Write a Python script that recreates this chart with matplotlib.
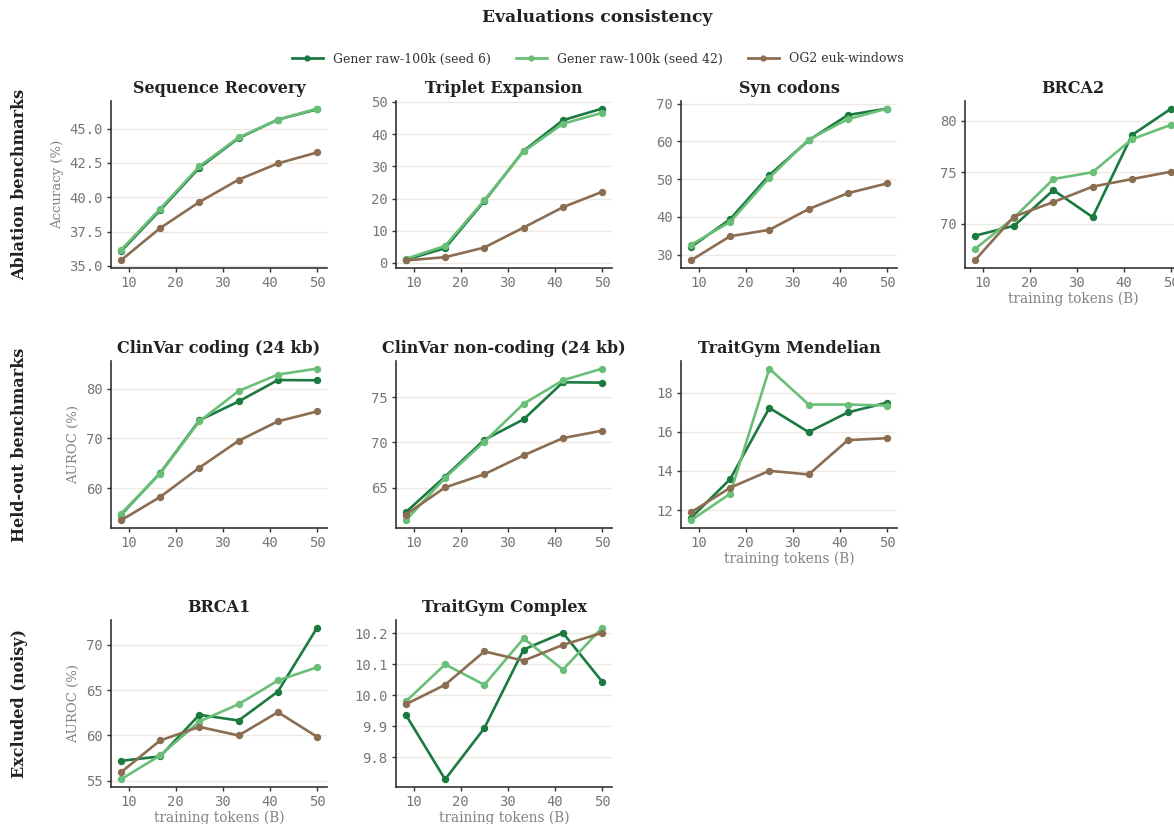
import matplotlib
matplotlib.use("Agg")
import matplotlib.pyplot as plt
from matplotlib.lines import Line2D

# training tokens (B)
tokens = [8.33, 16.67, 25.0, 33.33, 41.67, 50.0]

series_names = ["Gener raw-100k (seed 6)", "Gener raw-100k (seed 42)", "OG2 euk-windows"]
colors = ["#1a7a40", "#6abf78", "#8b6e52"]

seq_recovery = [
    [36.05, 39.05, 42.15, 44.3, 45.65, 46.4],
    [36.15, 39.15, 42.25, 44.35, 45.65, 46.45],
    [35.4, 37.75, 39.65, 41.28, 42.46, 43.26],
]
triplet_exp = [
    [1.0, 4.6, 19.2, 34.8, 44.3, 47.9],
    [1.3, 5.3, 19.5, 34.6, 43.2, 46.6],
    [0.8, 1.8, 4.8, 11.0, 17.3, 22.1],
]
syn_codons = [
    [32.0, 39.4, 51.1, 60.3, 67.0, 68.7],
    [32.6, 38.7, 50.4, 60.5, 65.9, 68.7],
    [28.5, 34.9, 36.6, 42.1, 46.3, 48.9],
]
brca2 = [
    [68.83, 69.8, 73.26, 70.64, 78.6, 81.17],
    [67.53, 70.6, 74.33, 75.0, 78.2, 79.6],
    [66.44, 70.7, 72.1, 73.6, 74.33, 75.05],
]
clinvar_coding = [
    [54.6, 63.0, 73.6, 77.4, 81.7, 81.65],
    [54.8, 62.9, 73.4, 79.5, 82.8, 84.0],
    [53.5, 58.2, 64.1, 69.5, 73.4, 75.4],
]
clinvar_noncoding = [
    [62.3, 66.24, 70.3, 72.55, 76.64, 76.6],
    [61.4, 66.1, 70.1, 74.27, 76.86, 78.15],
    [62.05, 65.04, 66.5, 68.58, 70.48, 71.3],
]
traitgym_mendelian = [
    [11.59, 13.58, 17.23, 15.99, 17.0, 17.5],
    [11.47, 12.83, 19.24, 17.4, 17.4, 17.35],
    [11.88, 13.14, 14.01, 13.82, 15.58, 15.68],
]
brca1 = [
    [57.2, 57.68, 62.27, 61.64, 64.83, 71.88],
    [55.15, 57.79, 61.53, 63.44, 66.05, 67.51],
    [55.92, 59.44, 60.94, 59.99, 62.56, 59.84],
]
traitgym_complex = [
    [9.937, 9.728, 9.894, 10.148, 10.202, 10.044],
    [9.980, 10.100, 10.034, 10.184, 10.083, 10.219],
    [9.971, 10.034, 10.142, 10.112, 10.163, 10.202],
]

rows = [
    ("Ablation benchmarks", "Accuracy (%)", [
        ("Sequence Recovery", seq_recovery),
        ("Triplet Expansion", triplet_exp),
        ("Syn codons", syn_codons),
        ("BRCA2", brca2),
    ]),
    ("Held-out benchmarks", "AUROC (%)", [
        ("ClinVar coding (24 kb)", clinvar_coding),
        ("ClinVar non-coding (24 kb)", clinvar_noncoding),
        ("TraitGym Mendelian", traitgym_mendelian),
    ]),
    ("Excluded (noisy)", "AUROC (%)", [
        ("BRCA1", brca1),
        ("TraitGym Complex", traitgym_complex),
    ]),
]

W, H = 1174, 824
fig = plt.figure(figsize=(W / 100, H / 100), dpi=100)

col_left = [111, 396, 681, 965]
ax_w = 216
row_top = [101, 361, 620]
ax_h = 167

serif = "DejaVu Serif"
mono = "DejaVu Sans Mono"
tick_col = "#767676"
label_col = "#828282"

for r, (row_name, ylab, panels) in enumerate(rows):
    for c, (title, data) in enumerate(panels):
        ax = fig.add_axes([col_left[c] / W, 1 - (row_top[r] + ax_h) / H, ax_w / W, ax_h / H])
        for vals, name, col in zip(data, series_names, colors):
            ax.plot(tokens, vals, color=col, lw=1.9, marker="o", ms=4.3, label=name)
        ax.set_title(title, fontfamily=serif, fontweight="bold", fontsize=11.5, color="#222222", pad=6)
        ax.grid(axis="y", color="#ece9e3", lw=1)
        ax.set_axisbelow(True)
        for s in ["top", "right"]:
            ax.spines[s].set_visible(False)
        for s in ["left", "bottom"]:
            ax.spines[s].set_color("#333333")
            ax.spines[s].set_linewidth(1.2)
        ax.tick_params(length=3, width=1, color="#333333", pad=3, labelsize=10, labelcolor=tick_col)
        ax.set_xticks([10, 20, 30, 40, 50])
        if c == 0:
            ax.set_ylabel(ylab, fontfamily=serif, fontsize=9.5, color=label_col, labelpad=4)
        # x label on lowest panel in each column
        if (r == 0 and c == 3) or (r == 1 and c == 2) or r == 2:
            ax.set_xlabel("training tokens (B)", fontfamily=serif, fontsize=9.8, color=label_col, labelpad=1)
        if title == "Sequence Recovery":
            ax.set_yticks([35.0, 37.5, 40.0, 42.5, 45.0])
            ax.yaxis.set_major_formatter(matplotlib.ticker.FormatStrFormatter("%.1f"))
        if title == "TraitGym Complex":
            ax.yaxis.set_major_formatter(matplotlib.ticker.FormatStrFormatter("%.1f"))
        if title == "BRCA2":
            ax.set_yticks([70, 75, 80])
        for lab in ax.get_xticklabels() + ax.get_yticklabels():
            lab.set_fontfamily(mono)
    yc = 1 - (row_top[r] + ax_h / 2) / H
    fig.text(20 / W, yc, row_name, rotation=90, ha="center", va="center",
             fontfamily=serif, fontweight="bold", fontsize=11.5, color="#222222")

fig.text(0.509, 1 - 18 / H, "Evaluations consistency", ha="center", va="center",
         fontfamily=serif, fontweight="bold", fontsize=12.3, color="#222222")
handles = [Line2D([], [], color=col, lw=2, marker="o", ms=3.5) for col in colors]
fig.legend(handles, series_names, loc="center", bbox_to_anchor=(0.509, 1 - 59 / H), ncol=3,
           frameon=False, prop={"family": serif, "size": 9}, handlelength=2.5,
           handletextpad=0.8, columnspacing=2.0, labelcolor="#333333")

fig.savefig("out.png", dpi=100)
